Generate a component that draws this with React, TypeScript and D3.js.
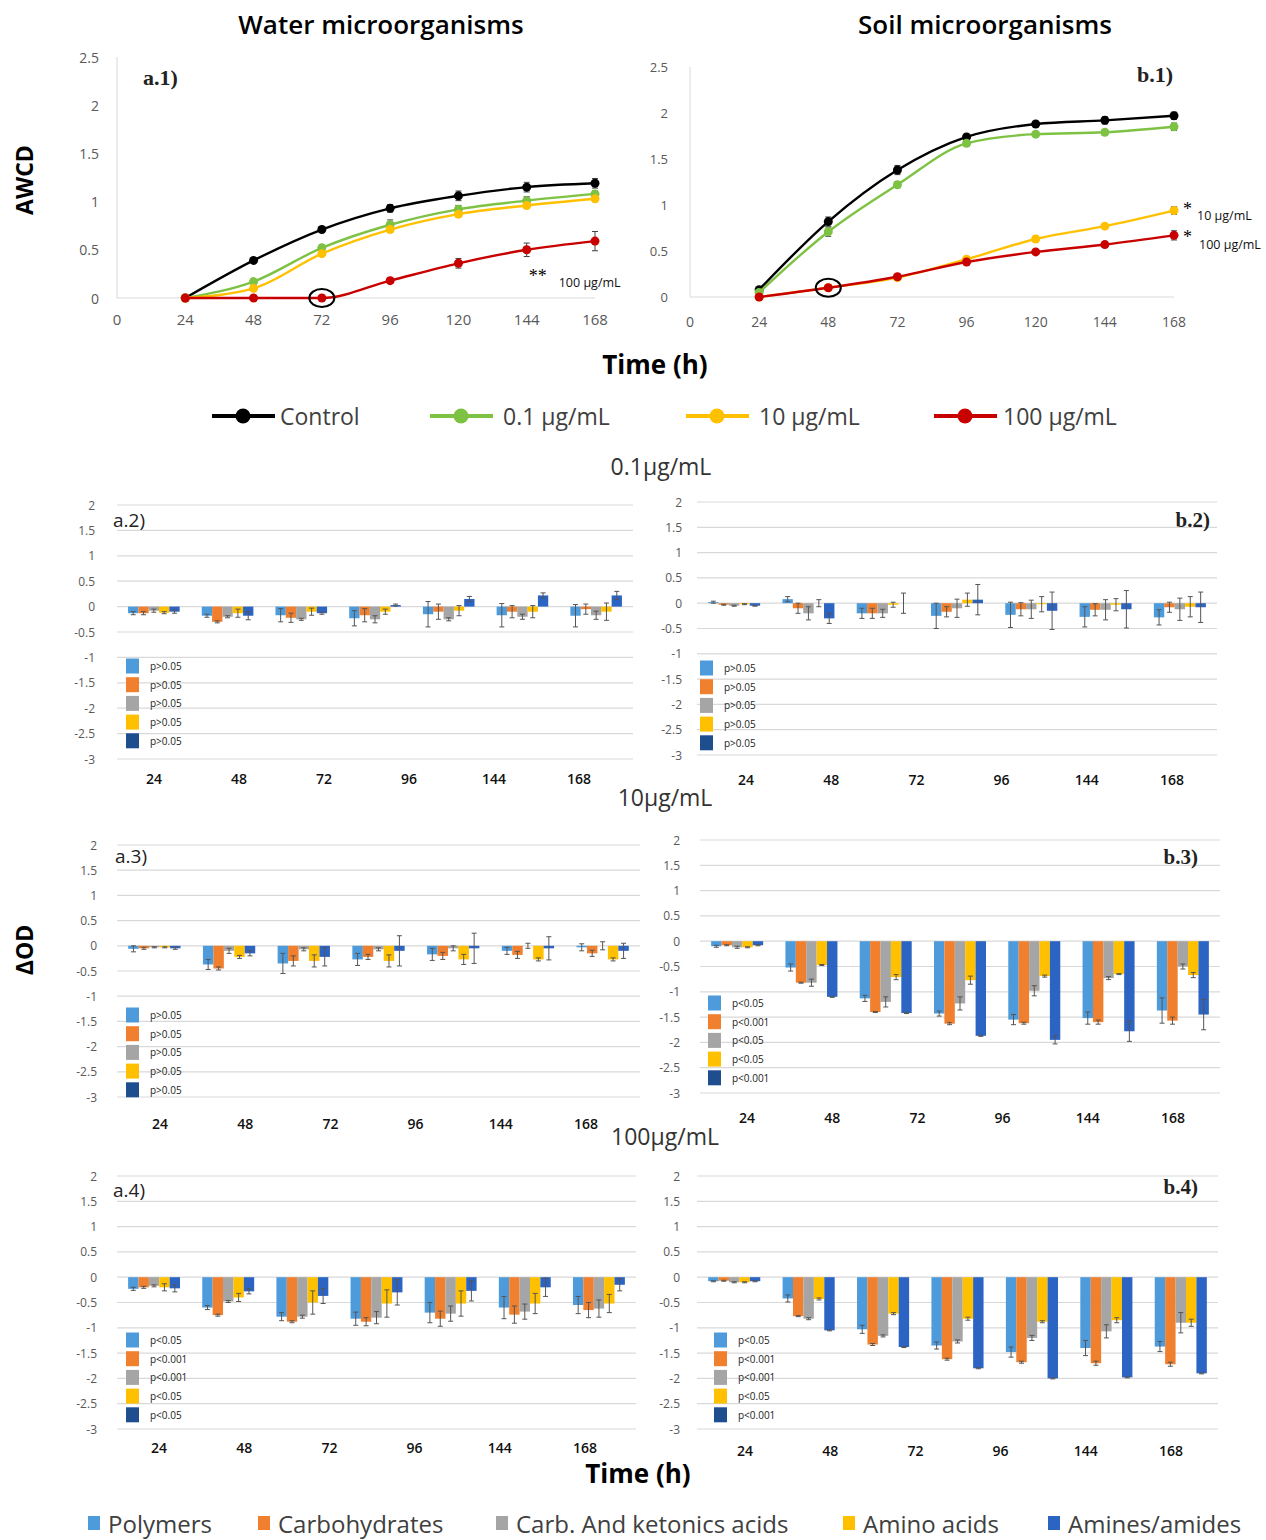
import React from 'react';
import * as d3 from 'd3';

const sans = "'Open Sans', 'Noto Sans', sans-serif";
const serif = "'Liberation Serif', 'DejaVu Serif', serif";

// ---- AWCD line charts ----
const hours = [24, 48, 72, 96, 120, 144, 168];
const axisHours = [0, 24, 48, 72, 96, 120, 144, 168];
const doseLabels = ['Control', '0.1 µg/mL', '10 µg/mL', '100 µg/mL'];
const doseColors = ['#000000', '#7dc243', '#ffc000', '#c80000'];

const waterControl = [0, 0.39, 0.71, 0.93, 1.06, 1.15, 1.19];
const waterDose01 = [0, 0.17, 0.52, 0.76, 0.92, 1.01, 1.08];
const waterDose10 = [0, 0.1, 0.46, 0.71, 0.87, 0.96, 1.03];
const waterDose100 = [0, 0, 0, 0.18, 0.36, 0.5, 0.59];
const waterAwcdErr = [
  [0, 0.02, 0.02, 0.04, 0.05, 0.05, 0.05],
  [0, 0.02, 0.03, 0.05, 0.04, 0.04, 0.03],
  [0, 0.02, 0.03, 0.03, 0.03, 0.03, 0.03],
  [0, 0, 0, 0.03, 0.05, 0.07, 0.1],
];

const soilControl = [0.08, 0.82, 1.38, 1.74, 1.88, 1.92, 1.97];
const soilDose01 = [0.05, 0.71, 1.22, 1.67, 1.77, 1.79, 1.85];
const soilDose10 = [0, 0.1, 0.21, 0.41, 0.63, 0.77, 0.94];
const soilDose100 = [0, 0.1, 0.22, 0.38, 0.49, 0.57, 0.67];
const soilAwcdErr = [
  [0.02, 0.05, 0.05, 0.03, 0.02, 0.04, 0.04],
  [0.02, 0.05, 0.03, 0.03, 0.02, 0.03, 0.04],
  [0, 0.02, 0.02, 0.02, 0.03, 0.02, 0.04],
  [0, 0.02, 0.02, 0.02, 0.02, 0.03, 0.05],
];

// ---- ΔOD bar charts (rows = substrate groups, columns = hours) ----
const substrates = ['Polymers', 'Carbohydrates', 'Carb. And ketonics acids', 'Amino acids', 'Amines/amides'];
const substrateColors = ['#4e9bdc', '#f07f2e', '#a5a5a5', '#ffc000', '#2c64c4'];
const swatchColors = ['#4e9bdc', '#f07f2e', '#a5a5a5', '#ffc000', '#1f4e8f'];
const barHours = ['24', '48', '72', '96', '120', '144', '168'];
const tickHours = ['24', '48', '72', '96', '144', '168'];

const water01 = [
  [-0.13, -0.18, -0.17, -0.23, -0.15, -0.17, -0.18],
  [-0.13, -0.3, -0.22, -0.17, -0.1, -0.1, -0.05],
  [-0.08, -0.2, -0.25, -0.25, -0.25, -0.2, -0.17],
  [-0.12, -0.13, -0.1, -0.1, -0.08, -0.1, -0.1],
  [-0.1, -0.18, -0.13, 0.03, 0.15, 0.22, 0.22],
];
const water01Err = [
  [0.03, 0.03, 0.13, 0.15, 0.25, 0.23, 0.22],
  [0.03, 0.02, 0.09, 0.13, 0.15, 0.12, 0.1],
  [0.03, 0.02, 0.02, 0.07, 0.03, 0.05, 0.08],
  [0.02, 0.08, 0.07, 0.05, 0.1, 0.12, 0.17],
  [0.03, 0.08, 0.02, 0.02, 0.05, 0.05, 0.08],
];
const water01P = ['p>0.05', 'p>0.05', 'p>0.05', 'p>0.05', 'p>0.05'];

const soil01 = [
  [0.02, 0.08, -0.2, -0.25, -0.23, -0.27, -0.28],
  [-0.03, -0.1, -0.2, -0.17, -0.12, -0.13, -0.08],
  [-0.05, -0.2, -0.2, -0.1, -0.12, -0.13, -0.12],
  [-0.02, 0, -0.03, 0.07, -0.02, -0.03, -0.07],
  [-0.05, -0.3, 0, 0.07, -0.15, -0.12, -0.08],
];
const soil01Err = [
  [0.02, 0.05, 0.1, 0.25, 0.25, 0.2, 0.15],
  [0.01, 0.1, 0.1, 0.1, 0.13, 0.12, 0.1],
  [0.01, 0.13, 0.08, 0.18, 0.18, 0.2, 0.22],
  [0.01, 0.07, 0.05, 0.13, 0.15, 0.12, 0.2],
  [0.01, 0.1, 0.2, 0.3, 0.37, 0.37, 0.3],
];
const soil01P = ['p>0.05', 'p>0.05', 'p>0.05', 'p>0.05', 'p>0.05'];

const water10 = [
  [-0.06, -0.37, -0.35, -0.27, -0.17, -0.1, -0.03],
  [-0.05, -0.45, -0.3, -0.22, -0.2, -0.18, -0.15],
  [-0.03, -0.1, -0.07, -0.07, -0.05, 0, 0],
  [-0.03, -0.22, -0.3, -0.3, -0.27, -0.27, -0.27],
  [-0.05, -0.15, -0.22, -0.1, -0.05, -0.05, -0.1],
];
const water10Err = [
  [0.06, 0.1, 0.2, 0.12, 0.12, 0.07, 0.07],
  [0.02, 0.03, 0.1, 0.05, 0.07, 0.07, 0.06],
  [0.01, 0.05, 0.03, 0.03, 0.05, 0.05, 0.08],
  [0.01, 0.03, 0.12, 0.12, 0.1, 0.03, 0.03],
  [0.02, 0.05, 0.18, 0.3, 0.3, 0.23, 0.15],
];
const water10P = ['p>0.05', 'p>0.05', 'p>0.05', 'p>0.05', 'p>0.05'];

const soil10 = [
  [-0.1, -0.52, -1.13, -1.43, -1.55, -1.52, -1.37],
  [-0.08, -0.82, -1.4, -1.63, -1.62, -1.6, -1.57],
  [-0.12, -0.82, -1.2, -1.23, -0.98, -0.73, -0.5],
  [-0.12, -0.47, -0.71, -0.77, -0.69, -0.65, -0.67],
  [-0.08, -1.1, -1.42, -1.87, -1.95, -1.78, -1.45],
];
const soil10Err = [
  [0.02, 0.07, 0.06, 0.05, 0.1, 0.12, 0.25],
  [0.01, 0.01, 0.01, 0.02, 0.02, 0.04, 0.07],
  [0.02, 0.07, 0.1, 0.13, 0.1, 0.03, 0.05],
  [0.01, 0.01, 0.05, 0.08, 0.02, 0.01, 0.05],
  [0.01, 0.01, 0.01, 0.01, 0.08, 0.2, 0.3],
];
const soil10P = ['p<0.05', 'p<0.001', 'p<0.05', 'p<0.05', 'p<0.001'];

const water100 = [
  [-0.23, -0.6, -0.78, -0.82, -0.7, -0.6, -0.55],
  [-0.2, -0.75, -0.88, -0.88, -0.82, -0.74, -0.65],
  [-0.17, -0.48, -0.78, -0.8, -0.72, -0.68, -0.62],
  [-0.2, -0.4, -0.5, -0.52, -0.52, -0.52, -0.52],
  [-0.22, -0.28, -0.37, -0.3, -0.27, -0.2, -0.15],
];
const water100Err = [
  [0.03, 0.04, 0.08, 0.13, 0.2, 0.22, 0.17],
  [0.02, 0.02, 0.02, 0.08, 0.15, 0.17, 0.15],
  [0.02, 0.02, 0.03, 0.12, 0.15, 0.15, 0.17],
  [0.07, 0.08, 0.23, 0.27, 0.25, 0.2, 0.18],
  [0.07, 0.05, 0.15, 0.25, 0.2, 0.18, 0.12],
];
const water100P = ['p<0.05', 'p<0.001', 'p<0.001', 'p<0.05', 'p<0.05'];

const soil100 = [
  [-0.08, -0.42, -1.03, -1.35, -1.48, -1.4, -1.37],
  [-0.07, -0.77, -1.33, -1.62, -1.68, -1.7, -1.72],
  [-0.1, -0.82, -1.16, -1.27, -1.2, -1.07, -0.9],
  [-0.1, -0.43, -0.72, -0.82, -0.88, -0.85, -0.9],
  [-0.08, -1.05, -1.38, -1.8, -2.0, -1.98, -1.9],
];
const soil100Err = [
  [0.01, 0.07, 0.08, 0.07, 0.1, 0.15, 0.1],
  [0.01, 0.01, 0.02, 0.02, 0.02, 0.04, 0.04],
  [0.01, 0.02, 0.02, 0.03, 0.05, 0.13, 0.2],
  [0.01, 0.02, 0.02, 0.03, 0.02, 0.05, 0.07],
  [0.01, 0.01, 0.01, 0.01, 0.01, 0.01, 0.01],
];
const soil100P = ['p<0.05', 'p<0.001', 'p<0.001', 'p<0.05', 'p<0.001'];

const fmt = (v: number) => `${+v.toFixed(1)}`;

function ErrorBar({ x, y1, y2, color = '#404040', cap = 3 }: any) {
  if (Math.abs(y1 - y2) < 0.5) return null;
  return (
    <g stroke={color} strokeWidth={1}>
      <line x1={x} x2={x} y1={y1} y2={y2} />
      <line x1={x - cap} x2={x + cap} y1={y1} y2={y1} />
      <line x1={x - cap} x2={x + cap} y1={y2} y2={y2} />
    </g>
  );
}

function LinePanel({ frame, series, errors, tag, ring, notes }: any) {
  const x = d3.scaleLinear([0, 168], [frame.left, frame.right]);
  const y = d3.scaleLinear([0, 2.5], [frame.zeroY, frame.topY]);
  const line = d3
    .line<number>()
    .x((_, i) => x(hours[i]))
    .y((d) => y(d))
    .curve(d3.curveMonotoneX);
  return (
    <g>
      <line x1={frame.left} x2={frame.left} y1={frame.topY} y2={frame.zeroY} stroke="#d9d9d9" />
      <line x1={frame.left} x2={frame.right} y1={frame.zeroY} y2={frame.zeroY} stroke="#d9d9d9" />
      {y.ticks(5).map((t) => (
        <text key={t} x={frame.yLabelX} y={y(t)} textAnchor="end" dominantBaseline="central"
          fontSize={frame.fontSize} fill="#595959">{fmt(t)}</text>
      ))}
      {axisHours.map((h) => (
        <text key={h} x={x(h)} y={frame.xLabelY} textAnchor="middle" dominantBaseline="central"
          fontSize={frame.fontSize + 1} fill="#595959">{h}</text>
      ))}
      {series.map((vals: number[], s: number) => (
        <g key={s}>
          <path d={line(vals) || ''} fill="none" stroke={doseColors[s]} strokeWidth={2.4} />
          {vals.map((v, i) => (
            <ErrorBar key={'e' + i} x={x(hours[i])} y1={y(v - errors[s][i])} y2={y(v + errors[s][i])} />
          ))}
          {vals.map((v, i) => (
            <circle key={i} cx={x(hours[i])} cy={y(v)} r={4.5} fill={doseColors[s]} />
          ))}
        </g>
      ))}
      <ellipse cx={x(hours[ring.hour])} cy={y(series[ring.series][ring.hour])} rx={12.5} ry={9}
        fill="none" stroke="#000" strokeWidth={2} />
      {notes.map((n: any, i: number) => (
        <g key={i}>
          <text x={x(n.hour) + n.dx} y={y(n.value) + n.dy} fontSize={18} fontFamily={serif} dominantBaseline="central">{n.star}</text>
          <text x={x(n.hour) + n.dx + n.gap} y={y(n.value) + n.dy + 7} fontSize={12.5} dominantBaseline="central" fill="#111">{n.text}</text>
        </g>
      ))}
      <text x={tag.x} y={tag.y} textAnchor={tag.anchor} dominantBaseline="central" fontFamily={serif}
        fontWeight="bold" fontSize={22} fill="#222">{tag.text}</text>
    </g>
  );
}

function BarPanel({ frame, values, errors, pvals, tag }: any) {
  const x = d3.scaleBand(barHours, [frame.left, frame.right]).paddingInner(0.3).paddingOuter(0.15);
  const sub = d3.scaleBand(substrates, [0, x.bandwidth()]);
  const y = d3.scaleLinear([-3, 2], [frame.bottom, frame.top]);
  const tickX = d3.scalePoint(tickHours, frame.tickRange);
  return (
    <g>
      {y.ticks(10).map((t) => (
        <g key={t}>
          <line x1={frame.left} x2={frame.right} y1={y(t)} y2={y(t)} stroke="#d9d9d9" strokeWidth={1.2} />
          <text x={frame.yLabelX} y={y(t)} textAnchor="end" dominantBaseline="central" fontSize={12}
            fill="#595959">{fmt(t)}</text>
        </g>
      ))}
      {tickHours.map((h) => (
        <text key={h} x={tickX(h)} y={frame.xLabelY} textAnchor="middle" dominantBaseline="central"
          fontSize={14} fontWeight={600} fill="#111">{h}</text>
      ))}
      {values.map((row: number[], s: number) => (
        <g key={s}>
          {row.map((v, i) => {
            const bx = (x(barHours[i]) || 0) + (sub(substrates[s]) || 0);
            return (
              <rect key={i} x={bx} width={sub.bandwidth()} y={Math.min(y(v), y(0))}
                height={Math.abs(y(v) - y(0))} fill={substrateColors[s]} />
            );
          })}
        </g>
      ))}
      {values.map((row: number[], s: number) =>
        row.map((v, i) => {
          const cx = (x(barHours[i]) || 0) + (sub(substrates[s]) || 0) + sub.bandwidth() / 2;
          return <ErrorBar key={s + '-' + i} x={cx} y1={y(v - errors[s][i])} y2={y(v + errors[s][i])}
            color="#555" cap={2.5} />;
        })
      )}
      {pvals.map((p: string, i: number) => (
        <g key={i}>
          <rect x={frame.legendX} y={frame.legendY + i * 18.7 - 7.5} width={13} height={15} fill={swatchColors[i]} />
          <text x={frame.legendX + 24} y={frame.legendY + i * 18.7} dominantBaseline="central" fontSize={10}
            fill="#222">{p}</text>
        </g>
      ))}
      <text x={tag.x} y={tag.y} textAnchor={tag.anchor} dominantBaseline="central"
        fontFamily={tag.serif ? serif : sans} fontWeight={tag.serif ? 'bold' : 500}
        fontSize={tag.serif ? 21 : 19} fill="#222">{tag.text}</text>
    </g>
  );
}

const waterLineFrame = { left: 117, right: 595, zeroY: 298, topY: 57, yLabelX: 99, xLabelY: 319, fontSize: 14 };
const soilLineFrame = { left: 690, right: 1174, zeroY: 297, topY: 67, yLabelX: 668, xLabelY: 321, fontSize: 13 };

const barFrames = {
  a2: { left: 117, right: 633, top: 505, bottom: 759, yLabelX: 95, xLabelY: 778, tickRange: [154, 579], legendX: 126, legendY: 666 },
  b2: { left: 697, right: 1217, top: 502, bottom: 755, yLabelX: 682, xLabelY: 779, tickRange: [746, 1172], legendX: 700, legendY: 668 },
  a3: { left: 117, right: 640, top: 845, bottom: 1097, yLabelX: 97, xLabelY: 1123, tickRange: [160, 586], legendX: 126, legendY: 1015 },
  b3: { left: 700, right: 1220, top: 840, bottom: 1093, yLabelX: 680, xLabelY: 1117, tickRange: [747, 1173], legendX: 708, legendY: 1003 },
  a4: { left: 117, right: 636, top: 1176, bottom: 1429, yLabelX: 97, xLabelY: 1447, tickRange: [159, 585], legendX: 126, legendY: 1340 },
  b4: { left: 697, right: 1218, top: 1176, bottom: 1429, yLabelX: 680, xLabelY: 1450, tickRange: [745, 1171], legendX: 714, legendY: 1340 },
};

const doseLegendX = [212, 430, 686, 934];
const substrateLegendX = [88, 258, 496, 843, 1048];

export default function App() {
  return (
    <svg width={1266} height={1540} viewBox="0 0 1266 1540"
      style={{ position: 'absolute', left: 0, top: 0, background: '#fff' }} fontFamily={sans}>
      <text x={381} y={24} textAnchor="middle" dominantBaseline="central" fontSize={26} fontWeight={600}>Water microorganisms</text>
      <text x={985} y={24} textAnchor="middle" dominantBaseline="central" fontSize={26} fontWeight={600}>Soil microorganisms</text>
      <text transform="translate(24,180) rotate(-90)" textAnchor="middle" dominantBaseline="central" fontSize={23} fontWeight={700}>AWCD</text>

      <LinePanel frame={waterLineFrame} series={[waterControl, waterDose01, waterDose10, waterDose100]}
        errors={waterAwcdErr} tag={{ text: 'a.1)', x: 143, y: 77, anchor: 'start' }}
        ring={{ series: 3, hour: 2 }}
        notes={[{ hour: 144, value: 0.5, dx: 2, dy: 26, gap: 30, star: '**', text: '100 µg/mL' }]} />
      <LinePanel frame={soilLineFrame} series={[soilControl, soilDose01, soilDose10, soilDose100]}
        errors={soilAwcdErr} tag={{ text: 'b.1)', x: 1173, y: 74, anchor: 'end' }}
        ring={{ series: 3, hour: 1 }}
        notes={[
          { hour: 168, value: 0.94, dx: 9, dy: -2, gap: 14, star: '*', text: '10 µg/mL' },
          { hour: 168, value: 0.67, dx: 9, dy: 2, gap: 16, star: '*', text: '100 µg/mL' },
        ]} />

      <text x={655} y={364} textAnchor="middle" dominantBaseline="central" fontSize={26} fontWeight={700}>Time (h)</text>

      {doseLabels.map((d, i) => (
        <g key={d}>
          <line x1={doseLegendX[i]} x2={doseLegendX[i] + 63} y1={416} y2={416} stroke={doseColors[i]} strokeWidth={4} />
          <circle cx={doseLegendX[i] + 31} cy={416} r={7.5} fill={doseColors[i]} />
          <text x={doseLegendX[i] + (i === 0 ? 68 : i === 3 ? 69 : 73)} y={416} dominantBaseline="central"
            fontSize={23} fill="#404040">{d}</text>
        </g>
      ))}

      <text x={661} y={466} textAnchor="middle" dominantBaseline="central" fontSize={23} fill="#333">0.1µg/mL</text>
      <text x={665} y={797} textAnchor="middle" dominantBaseline="central" fontSize={23} fill="#333">10µg/mL</text>
      <text x={665} y={1136} textAnchor="middle" dominantBaseline="central" fontSize={23} fill="#333">100µg/mL</text>

      <BarPanel frame={barFrames.a2} values={water01} errors={water01Err} pvals={water01P}
        tag={{ text: 'a.2)', x: 113, y: 520, anchor: 'start' }} />
      <BarPanel frame={barFrames.b2} values={soil01} errors={soil01Err} pvals={soil01P}
        tag={{ text: 'b.2)', x: 1210, y: 520, anchor: 'end', serif: true }} />
      <BarPanel frame={barFrames.a3} values={water10} errors={water10Err} pvals={water10P}
        tag={{ text: 'a.3)', x: 115, y: 856, anchor: 'start' }} />
      <BarPanel frame={barFrames.b3} values={soil10} errors={soil10Err} pvals={soil10P}
        tag={{ text: 'b.3)', x: 1198, y: 857, anchor: 'end', serif: true }} />
      <BarPanel frame={barFrames.a4} values={water100} errors={water100Err} pvals={water100P}
        tag={{ text: 'a.4)', x: 113, y: 1190, anchor: 'start' }} />
      <BarPanel frame={barFrames.b4} values={soil100} errors={soil100Err} pvals={soil100P}
        tag={{ text: 'b.4)', x: 1198, y: 1187, anchor: 'end', serif: true }} />

      <text transform="translate(24,950) rotate(-90)" textAnchor="middle" dominantBaseline="central" fontSize={23} fontWeight={700}>ΔOD</text>
      <text x={638} y={1473} textAnchor="middle" dominantBaseline="central" fontSize={26} fontWeight={700}>Time (h)</text>

      {substrates.map((s, i) => (
        <g key={s}>
          <rect x={substrateLegendX[i]} y={1516} width={12} height={14} fill={substrateColors[i]} />
          <text x={substrateLegendX[i] + 20} y={1523} dominantBaseline="central" fontSize={24} fill="#404040">{s}</text>
        </g>
      ))}
    </svg>
  );
}
